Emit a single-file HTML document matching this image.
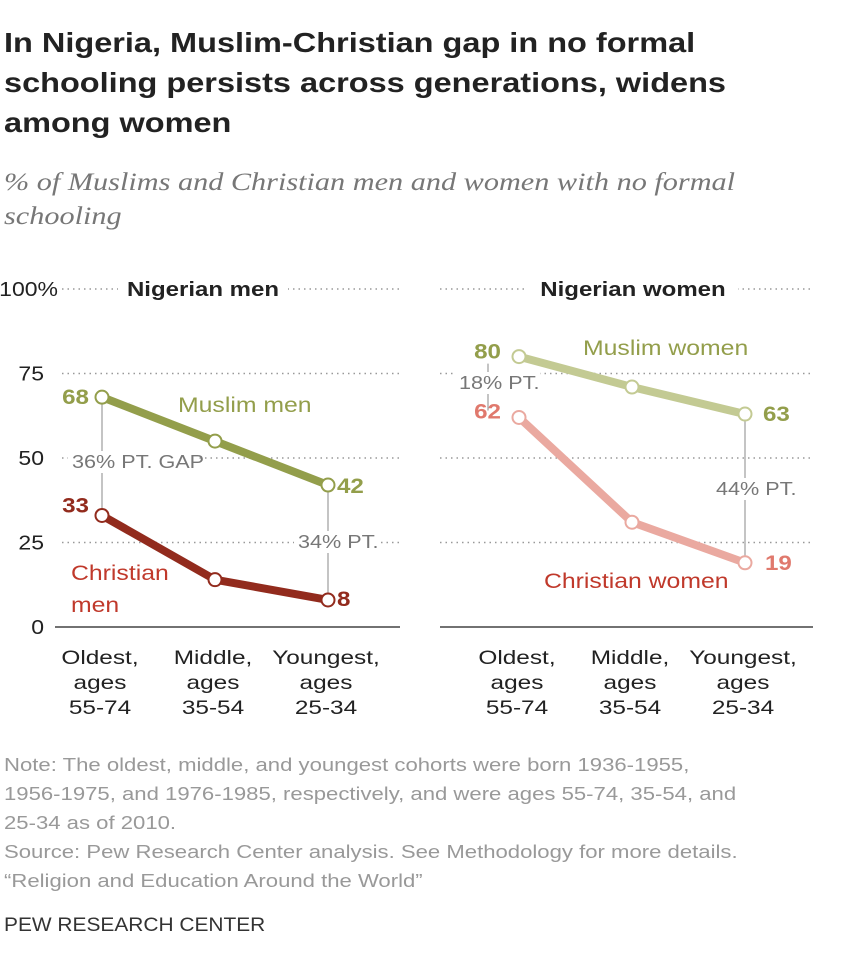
<!DOCTYPE html>
<html><head><meta charset="utf-8"><style>
body{margin:0;background:#fff;width:841px;height:962px;overflow:hidden;font-family:"Liberation Sans",sans-serif;}
.t{position:absolute;left:4px;top:23px;font-size:28px;font-weight:bold;line-height:40px;color:#222;transform:scaleX(1.16);transform-origin:0 0;white-space:nowrap;}
.s{position:absolute;left:4px;top:166px;font-family:"Liberation Serif",serif;font-style:italic;font-size:25px;line-height:34px;color:#777;transform:scaleX(1.21);transform-origin:0 0;white-space:nowrap;}
.n{position:absolute;left:4px;top:750px;font-size:18.5px;line-height:29px;color:#999;transform:scaleX(1.195);transform-origin:0 0;white-space:nowrap;}
.p{position:absolute;left:4px;top:915px;font-size:19px;color:#333;transform:scaleX(1.1);transform-origin:0 0;white-space:nowrap;}
</style></head><body>
<div class="t">In Nigeria, Muslim-Christian gap in no formal<br>schooling persists across generations, widens<br>among women</div>
<div class="s">% of Muslims and Christian men and women with no formal<br>schooling</div>
<svg id="c" width="841" height="962" style="position:absolute;left:0;top:0"></svg>
<div class="n">Note: The oldest, middle, and youngest cohorts were born 1936-1955,<br>1956-1975, and 1976-1985, respectively, and were ages 55-74, 35-54, and<br>25-34 as of 2010.<br>Source: Pew Research Center analysis. See Methodology for more details.<br>“Religion and Education Around the World”</div>
<div class="p">PEW RESEARCH CENTER</div>
<script>
const categories=["Oldest,|ages|55-74","Middle,|ages|35-54","Youngest,|ages|25-34"];
const yTicks=[0,25,50,75,100];
const yTickLabels=["0","25","50","75","100%"];
const muslimMen=[68,55,42];
const christianMen=[33,14,8];
const muslimWomen=[80,71,63];
const christianWomen=[62,31,19];
const svg=document.getElementById('c');const NS="http://www.w3.org/2000/svg";
function y(v){return 627-3.38*v;}
const leftX=[102,215,328], rightX=[519,632,745];
function mk(tag,attrs,parent,name){const e=document.createElementNS(NS,tag);for(const k in attrs)e.setAttribute(k,attrs[k]);


(parent||svg).appendChild(e);return e;}
function txt(s,x,yy,o,name,f){const e=mk('text',Object.assign({x:x,y:yy,'font-family':'Liberation Sans, sans-serif','font-size':19,fill:'#333'},o),svg,name);e.textContent=s;
 const w=e.getComputedTextLength();if(w>0){e.setAttribute('textLength',w*(f||1.18));e.setAttribute('lengthAdjust','spacingAndGlyphs');}return e;}
yTicks.forEach((t,i)=>{
 if(t===0){mk('line',{x1:55,x2:400,y1:y(0),y2:y(0),stroke:'#444','stroke-width':1.5},svg,'x-axis-left');
  mk('line',{x1:440,x2:813,y1:y(0),y2:y(0),stroke:'#444','stroke-width':1.5},svg,'x-axis-right');}
 else{mk('line',{x1:62,x2:400,y1:y(t),y2:y(t),stroke:'#999','stroke-width':1.5,'stroke-dasharray':'1.5 4'},svg,'gridline-left');
  mk('line',{x1:440,x2:813,y1:y(t),y2:y(t),stroke:'#999','stroke-width':1.5,'stroke-dasharray':'1.5 4'},svg,'gridline-right');}
 txt(yTickLabels[i],t===100?58:44,y(t)+7,{'text-anchor':'end','font-size':20,fill:'#222'},'y-tick-label',1.15);
});
mk('rect',{x:118,y:275,width:170,height:28,fill:'#fff'},svg,'title-bg');
mk('rect',{x:528,y:275,width:210,height:28,fill:'#fff'},svg,'title-bg');
txt('Nigerian men',203,296,{'text-anchor':'middle','font-weight':'bold','font-size':20,fill:'#222'},'panel-title-men',1.2);
txt('Nigerian women',633,296,{'text-anchor':'middle','font-weight':'bold','font-size':20,fill:'#222'},'panel-title-women',1.2);
[leftX,rightX].forEach(xs=>categories.forEach((c,i)=>{c.split('|').forEach((l,j)=>txt(l,xs[i]-2,664+j*25,{'text-anchor':'middle','font-size':19.5,fill:'#222'},'x-axis-label',1.25));}));
function gap(x,a,b,lab,lx,ly,name){mk('line',{x1:x,x2:x,y1:y(a)+7,y2:y(b)-7,stroke:'#888','stroke-width':1},svg,name);
 const w=lab.length*11.3;mk('rect',{x:lx-4,y:ly-17,width:w+6,height:22,fill:'#fff'},svg,'gap-label-bg');
 txt(lab,lx,ly,{'font-size':18,fill:'#777'},name+'-label',1.2);}
gap(leftX[0],muslimMen[0],christianMen[0],'36% PT. GAP',72,468,'gap-men-oldest');
gap(leftX[2],muslimMen[2],christianMen[2],'34% PT.',298,548,'gap-men-youngest');
gap(488,muslimWomen[0],christianWomen[0],'18% PT.',459,389,'gap-women-oldest');
gap(rightX[2],muslimWomen[2],christianWomen[2],'44% PT.',716,495,'gap-women-youngest');
function series(xs,vals,color,name){
 mk('polyline',{points:xs.map((x,i)=>x+','+y(vals[i])).join(' '),fill:'none',stroke:color,'stroke-width':8,'stroke-linejoin':'round'},svg,name+'-line');
 xs.forEach((x,i)=>mk('circle',{cx:x,cy:y(vals[i]),r:6.5,fill:'#fff',stroke:color,'stroke-width':2},svg,name+'-point'));}
series(leftX,muslimMen,'#939e4b','muslim-men');
series(leftX,christianMen,'#922b1d','christian-men');
series(rightX,muslimWomen,'#c3ca93','muslim-women');
series(rightX,christianWomen,'#eaa9a0','christian-women');
function vl(v,x,yy,c,anchor,name){txt(String(v),x,yy,{'font-weight':'bold','font-size':21,fill:c,'text-anchor':anchor},name,1.15);}
vl(muslimMen[0],89,y(muslimMen[0])+7,'#939e4b','end','value-muslim-men-oldest');
vl(muslimMen[2],337,y(muslimMen[2])+8,'#939e4b','start','value-muslim-men-youngest');
vl(christianMen[0],89,y(christianMen[0])-3,'#922b1d','end','value-christian-men-oldest');
vl(christianMen[2],337,y(christianMen[2])+6,'#922b1d','start','value-christian-men-youngest');
vl(muslimWomen[0],501,y(muslimWomen[0])+2,'#939e4b','end','value-muslim-women-oldest');
vl(muslimWomen[2],763,y(muslimWomen[2])+7,'#939e4b','start','value-muslim-women-youngest');
vl(christianWomen[0],501,y(christianWomen[0])+1,'#e0796d','end','value-christian-women-oldest');
vl(christianWomen[2],765,y(christianWomen[2])+7,'#e0796d','start','value-christian-women-youngest');
txt('Muslim men',178,412,{'font-size':21,fill:'#939e4b'},'label-muslim-men',1.18);
txt('Christian',71,580,{'font-size':21,fill:'#c0392b'},'label-christian-men',1.18);
txt('men',71,612,{'font-size':21,fill:'#c0392b'},'label-christian-men-2',1.18);
txt('Muslim women',583,355,{'font-size':21,fill:'#939e4b'},'label-muslim-women',1.18);
txt('Christian women',544,588,{'font-size':21,fill:'#c0392b'},'label-christian-women',1.18);
</script>
</body></html>
